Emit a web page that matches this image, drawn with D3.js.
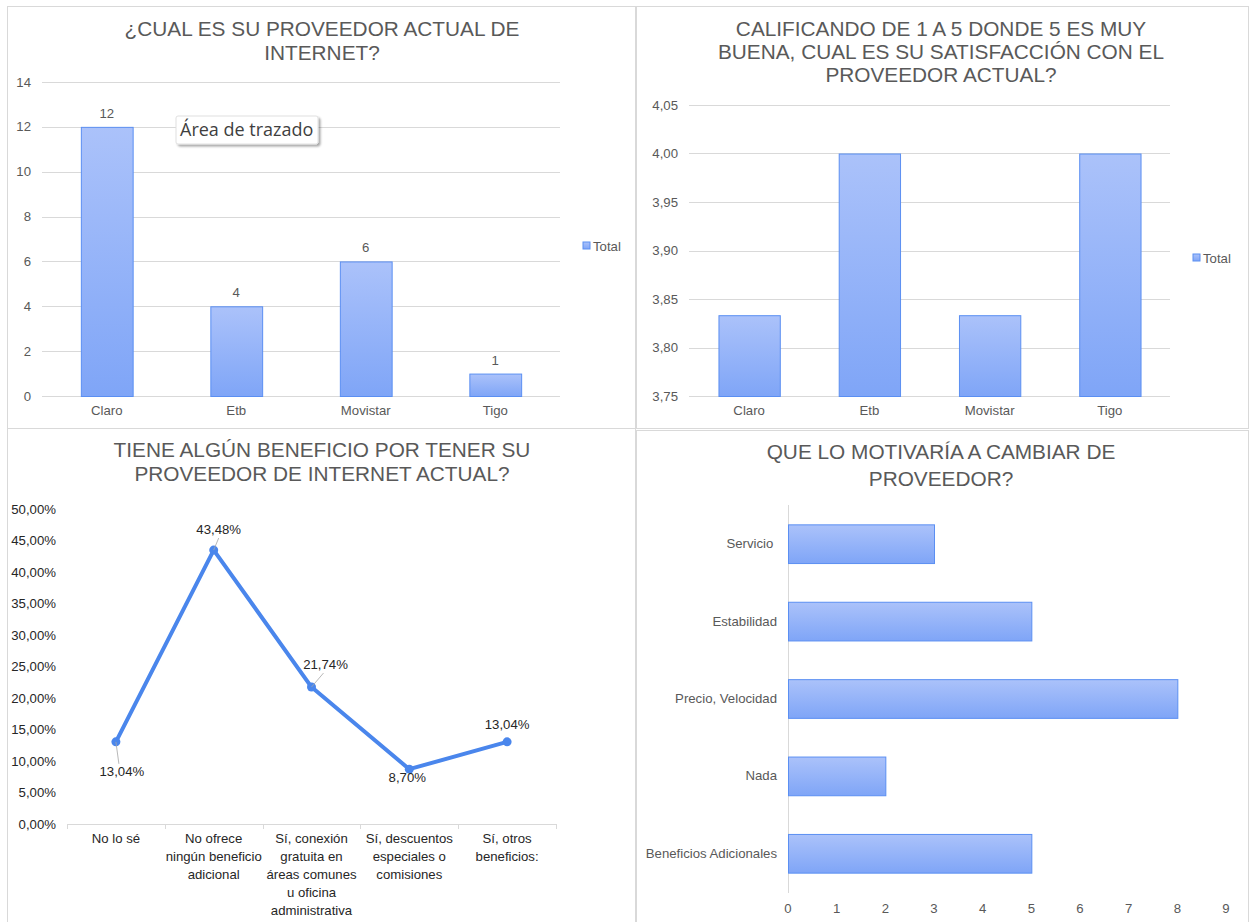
<!DOCTYPE html>
<html lang="es">
<head>
  <meta charset="UTF-8">
  <title>Encuesta proveedor de internet</title>
  <style>
    body { margin: 0; background: #fff; font-family: 'Liberation Sans', Arial, sans-serif; }
    svg text { font-family: 'Liberation Sans', Arial, sans-serif; }
  </style>
</head>
<body>
  <svg width="1251" height="922"></svg>

  <script src="https://d3js.org/d3.v7.min.js"></script>
  <script>
  // datos
  const proveedores = ["Claro", "Etb", "Movistar", "Tigo"];
  const cantidadProveedor = [12, 4, 6, 1];
  const ticksCantidad = [0, 2, 4, 6, 8, 10, 12, 14];

  const satisfaccion = [3.8333, 4.0, 3.8333, 4.0];
  const ticksSatisfaccion = [3.75, 3.80, 3.85, 3.90, 3.95, 4.00, 4.05];

  const beneficios = ["No lo sé", "No ofrece ningún beneficio adicional", "Sí, conexión gratuita en áreas comunes u oficina administrativa", "Sí, descuentos especiales o comisiones", "Sí, otros beneficios:"];
  const beneficiosLineas = [["No lo sé"], ["No ofrece", "ningún beneficio", "adicional"], ["Sí, conexión", "gratuita en", "áreas comunes", "u oficina", "administrativa"], ["Sí, descuentos", "especiales o", "comisiones"], ["Sí, otros", "beneficios:"]];
  const porcentajeBeneficio = [0.1304, 0.4348, 0.2174, 0.0870, 0.1304];
  const ticksPorcentaje = [0, 0.05, 0.10, 0.15, 0.20, 0.25, 0.30, 0.35, 0.40, 0.45, 0.50];

  const motivos = ["Servicio ", "Estabilidad", "Precio, Velocidad", "Nada", "Beneficios Adicionales"];
  const cantidadMotivo = [3, 5, 8, 2, 5];
  const ticksMotivo = [0, 1, 2, 3, 4, 5, 6, 7, 8, 9];

  const svg = d3.select("svg");
  const gris = "#595959";
  const rejilla = "#d9d9d9";
  const fs = "13.2px";
  const coma = d3.formatLocale({decimal: ",", thousands: ".", grouping: [3], currency: ["$", ""]});

  const defs = svg.append("defs");
  const grad = defs.append("linearGradient").attr("id", "relleno")
    .attr("x1", 0).attr("y1", 0).attr("x2", 0).attr("y2", 1);
  grad.append("stop").attr("offset", "0%").attr("stop-color", "#abc2fa");
  grad.append("stop").attr("offset", "100%").attr("stop-color", "#7fa5f7");
  const sombra = defs.append("filter").attr("id", "sombra").attr("x", "-10%").attr("y", "-20%").attr("width", "130%").attr("height", "160%");
  sombra.append("feDropShadow").attr("dx", 2).attr("dy", 2).attr("stdDeviation", 1.2).attr("flood-color", "#000").attr("flood-opacity", 0.35);

  // marcos de los paneles
  const marcos = [[7, 6, 628, 422], [636, 6, 612, 422], [7, 428, 628, 500], [636, 430, 612, 500]];
  svg.selectAll("rect.marco").data(marcos).enter().append("rect")
    .attr("class", "marco")
    .attr("x", d => d[0] + 0.5).attr("y", d => d[1] + 0.5)
    .attr("width", d => d[2]).attr("height", d => d[3])
    .attr("fill", "none").attr("stroke", rejilla);

  function titulo(lineas, cx, y0, paso) {
    svg.append("g").selectAll("text").data(lineas).enter().append("text")
      .attr("x", cx).attr("y", (d, i) => y0 + i * paso)
      .attr("text-anchor", "middle")
      .attr("font-size", "20.8px")
      .attr("fill", gris)
      .text(d => d);
  }

  function barrasVerticales(cfg) {
    const g = svg.append("g");
    const x = d3.scaleBand().domain(cfg.cats).range(cfg.xr).paddingInner(cfg.pad).paddingOuter(cfg.pad / 2);
    const y = d3.scaleLinear().domain(cfg.dom).range(cfg.yr);

    g.append("g").selectAll("line").data(cfg.ticks).enter().append("line")
      .attr("x1", cfg.xr[0]).attr("x2", cfg.xr[1])
      .attr("y1", d => Math.round(y(d)) + 0.5).attr("y2", d => Math.round(y(d)) + 0.5)
      .attr("stroke", rejilla);

    g.append("g").selectAll("text").data(cfg.ticks).enter().append("text")
      .attr("x", cfg.xr[0] - 11).attr("y", d => y(d) + 4.5)
      .attr("text-anchor", "end").attr("font-size", fs).attr("fill", gris)
      .text(cfg.fmt);

    g.append("g").selectAll("rect").data(cfg.vals).enter().append("rect")
      .attr("x", (d, i) => x(cfg.cats[i]) + 0.5)
      .attr("y", d => y(d) + 0.5)
      .attr("width", x.bandwidth())
      .attr("height", d => y(cfg.dom[0]) - y(d))
      .attr("fill", "url(#relleno)").attr("stroke", "#5b8ff2").attr("stroke-width", 1);

    if (cfg.etiquetas) {
      g.append("g").selectAll("text").data(cfg.vals).enter().append("text")
        .attr("x", (d, i) => x(cfg.cats[i]) + x.bandwidth() / 2)
        .attr("y", d => y(d) - 9)
        .attr("text-anchor", "middle").attr("font-size", fs).attr("fill", gris)
        .text(d => d);
    }

    g.append("g").selectAll("text").data(cfg.cats).enter().append("text")
      .attr("x", d => x(d) + x.bandwidth() / 2).attr("y", y(cfg.dom[0]) + 19)
      .attr("text-anchor", "middle").attr("font-size", fs).attr("fill", gris)
      .text(d => d);

    g.append("rect").attr("x", cfg.ley[0]).attr("y", cfg.ley[1] - 4).attr("width", 7).attr("height", 7)
      .attr("fill", "url(#relleno)").attr("stroke", "#5b8ff2");
    g.append("text").attr("x", cfg.ley[0] + 10).attr("y", cfg.ley[1] + 4.5)
      .attr("font-size", fs).attr("fill", gris).text("Total");
  }

  // Panel 1
  titulo(["¿CUAL ES SU PROVEEDOR ACTUAL DE", "INTERNET?"], 322, 36, 23.5);
  barrasVerticales({
    cats: proveedores, vals: cantidadProveedor, ticks: ticksCantidad,
    dom: [0, 14], xr: [42, 560], yr: [396, 82], pad: 0.6,
    fmt: d => d, etiquetas: true, ley: [583, 246]
  });

  // Tooltip "Área de trazado"
  const tip = svg.append("g").attr("transform", "translate(176,116)");
  tip.append("rect").attr("width", 142).attr("height", 28).attr("rx", 2)
    .attr("fill", "#fff").attr("stroke", "#e0e0e0").attr("filter", "url(#sombra)");
  tip.append("text").attr("x", 4).attr("y", 20)
    .attr("font-size", "18px").attr("fill", "#3f3f3f")
    .style("font-family", "'Open Sans', 'Noto Sans', sans-serif")
    .text("Área de trazado");

  // Panel 2
  titulo(["CALIFICANDO DE 1 A 5 DONDE 5 ES MUY", "BUENA, CUAL ES SU SATISFACCIÓN CON EL", "PROVEEDOR ACTUAL?"], 941, 36, 23);
  barrasVerticales({
    cats: proveedores, vals: satisfaccion, ticks: ticksSatisfaccion,
    dom: [3.75, 4.05], xr: [689, 1170], yr: [396, 105], pad: 0.49,
    fmt: d => coma.format(".2f")(d), etiquetas: false, ley: [1193, 258]
  });

  // Panel 3: línea
  titulo(["TIENE ALGÚN BENEFICIO POR TENER SU", "PROVEEDOR DE INTERNET ACTUAL?"], 322, 457, 23.5);
  {
    const g = svg.append("g");
    const x = d3.scaleBand().domain(beneficios).range([67, 556]);
    const y = d3.scaleLinear().domain([0, 0.5]).range([824, 509]);
    const cx = d => x(d) + x.bandwidth() / 2;
    const negro = "#262626";
    const pct = v => coma.format(".2%")(v);

    g.append("g").selectAll("text").data(ticksPorcentaje).enter().append("text")
      .attr("x", 56).attr("y", d => y(d) + 4.5)
      .attr("text-anchor", "end").attr("font-size", fs).attr("fill", negro)
      .text(pct);

    g.append("line").attr("x1", 67).attr("x2", 556).attr("y1", 824.5).attr("y2", 824.5).attr("stroke", rejilla);
    const bordes = beneficios.map(d => x(d)).concat([x.range()[1]]);
    g.append("g").selectAll("line").data(bordes).enter().append("line")
      .attr("x1", d => Math.round(d) + 0.5).attr("x2", d => Math.round(d) + 0.5)
      .attr("y1", 824).attr("y2", 829).attr("stroke", rejilla);

    g.append("g").selectAll("text").data(beneficiosLineas).enter().append("text")
      .attr("text-anchor", "middle").attr("font-size", fs).attr("fill", negro)
      .each(function (lineas, i) {
        d3.select(this).selectAll("tspan").data(lineas).enter().append("tspan")
          .attr("x", cx(beneficios[i])).attr("y", (d, j) => 843 + j * 18)
          .text(d => d);
      });

    const puntos = porcentajeBeneficio.map((v, i) => [cx(beneficios[i]), y(v)]);
    g.append("path").datum(puntos)
      .attr("d", d3.line())
      .attr("fill", "none").attr("stroke", "#4a86ec").attr("stroke-width", 4)
      .attr("stroke-linejoin", "round");
    g.append("g").selectAll("circle").data(puntos).enter().append("circle")
      .attr("cx", d => d[0]).attr("cy", d => d[1]).attr("r", 4.5)
      .attr("fill", "#4a86ec");

    // desplazamiento de etiquetas [dx, dy texto, guía x2, guía y2]
    const desplaz = [[6, 34, 3, 22], [5, -16, 5, -12], [14, -18, 12, -14], [-2, 13, 0, 0], [0, -13, 0, 0]];
    g.append("g").selectAll("line").data(puntos).enter().append("line")
      .filter((d, i) => desplaz[i][3] !== 0)
      .attr("x1", d => d[0]).attr("y1", d => d[1])
      .attr("x2", (d, i) => d[0] + desplaz[i][2]).attr("y2", (d, i) => d[1] + desplaz[i][3])
      .attr("stroke", "#a6a6a6").attr("stroke-width", 0.8);
    g.append("g").selectAll("text").data(puntos).enter().append("text")
      .attr("x", (d, i) => d[0] + desplaz[i][0]).attr("y", (d, i) => d[1] + desplaz[i][1])
      .attr("text-anchor", "middle").attr("font-size", fs).attr("fill", negro)
      .text((d, i) => pct(porcentajeBeneficio[i]));
  }

  // Panel 4: barras horizontales
  titulo(["QUE LO MOTIVARÍA A CAMBIAR DE", "PROVEEDOR?"], 941, 459, 27);
  {
    const g = svg.append("g");
    const x = d3.scaleLinear().domain([0, 9]).range([788, 1226]);
    const y = d3.scaleBand().domain(motivos).range([505, 892]).paddingInner(0.5).paddingOuter(0.25);

    g.append("line").attr("x1", 788.5).attr("x2", 788.5).attr("y1", 505).attr("y2", 893).attr("stroke", rejilla);

    g.append("g").selectAll("text").data(ticksMotivo).enter().append("text")
      .attr("x", d => x(d)).attr("y", 913)
      .attr("text-anchor", "middle").attr("font-size", fs).attr("fill", gris)
      .text(d => d);

    g.append("g").selectAll("rect").data(cantidadMotivo).enter().append("rect")
      .attr("x", x(0) + 0.5)
      .attr("y", (d, i) => y(motivos[i]) + 0.5)
      .attr("width", d => x(d) - x(0))
      .attr("height", y.bandwidth())
      .attr("fill", "url(#relleno)").attr("stroke", "#5b8ff2");

    g.append("g").selectAll("text").data(motivos).enter().append("text")
      .attr("x", 777).attr("y", d => y(d) + y.bandwidth() / 2 + 4.5)
      .attr("text-anchor", "end").attr("font-size", fs).attr("fill", gris)
      .style("white-space", "pre")
      .text(d => d);
  }
  </script>
</body>
</html>
